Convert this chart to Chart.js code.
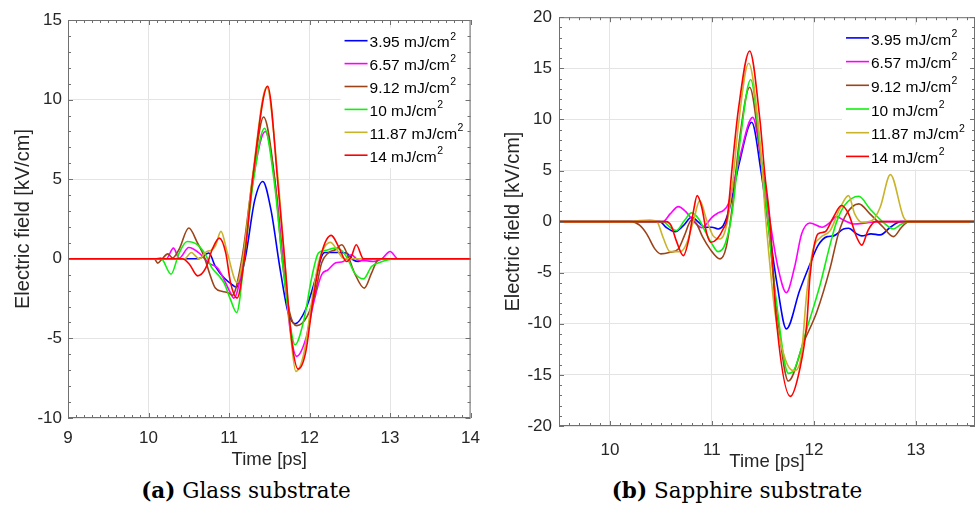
<!DOCTYPE html>
<html>
<head>
<meta charset="utf-8">
<script src="https://cdn.jsdelivr.net/npm/chart.js@4.4.1/dist/chart.umd.min.js"></script>
<style>
  body { margin: 0; background: #fff; }
  #wrap { position: relative; width: 976px; height: 505px; overflow: hidden; }
  .panel { position: absolute; top: 0; }
  .caption { position: absolute; top: 479px; width: 320px; text-align: center; font-family: "DejaVu Serif", serif; font-size: 21.5px; line-height: 24px; color: #000; white-space: nowrap; }
</style>
</head>
<body>
<div id="wrap">
  <div class="panel" style="left:0px"><canvas id="glass" width="490" height="475"></canvas></div>
  <div class="panel" style="left:490px"><canvas id="sapphire" width="486" height="475"></canvas></div>
  <div class="caption" style="left:86px"><b>(a)</b> Glass substrate</div>
  <div class="caption" style="left:577px"><b>(b)</b> Sapphire substrate</div>
</div>
<script>
// pump fluences (legend) and colours
var fluences = ['3.95', '6.57', '9.12', '10', '11.87', '14']
var seriesColors = ['#0000ff', '#ff00ff', '#9b4419', '#10f010', '#c9b32a', '#ff0000']

// axis ticks
var glassXTicks = [9, 10, 11, 12, 13, 14]
var glassYTicks = [-10, -5, 0, 5, 10, 15]
var sapphireXTicks = [10, 11, 12, 13]
var sapphireYTicks = [-20, -15, -10, -5, 0, 5, 10, 15, 20]

// (a) glass substrate, [time ps, field kV/cm]
var glass395 = [[9,0],[10.62,0],[10.75,0.36],[10.83,-0.48],[10.94,-1.21],[11.04,-1.63],[11.09,-1.78],[11.2,0],[11.32,3.7],[11.42,4.86],[11.52,3.1],[11.63,-0.5],[11.73,-3.3],[11.82,-4.08],[11.95,-3.2],[12.07,-1.32],[12.15,0.15],[12.19,0.4],[12.36,0.4],[12.46,0.36],[12.54,-0.06],[12.61,-0.17],[12.69,0],[14,0]]
var glass657 = [[9,0],[10.22,0],[10.31,0.67],[10.38,0.04],[10.5,0.71],[10.63,0.36],[10.75,-0.27],[10.86,-0.59],[10.94,-1.32],[11.02,-2.16],[11.06,-2.47],[11.18,0],[11.3,5.0],[11.45,8.0],[11.58,4.5],[11.67,0],[11.76,-4.5],[11.84,-6.13],[11.95,-5.09],[12.05,-2.78],[12.15,-1.0],[12.23,-0.69],[12.32,-0.27],[12.42,-0.17],[12.52,0.25],[12.61,-0.1],[12.7,-0.12],[12.79,-0.17],[12.9,0],[13.0,0.46],[13.1,0],[14,0]]
var glass912 = [[9,0],[10.07,0],[10.115,-0.27],[10.17,0],[10.24,0.31],[10.3,0.05],[10.38,0.6],[10.5,1.93],[10.61,0.98],[10.69,0.15],[10.77,-1.1],[10.83,-1.84],[10.92,-2.05],[11.0,-2.16],[11.04,-2.3],[11.16,0],[11.3,5.3],[11.43,8.91],[11.57,4.9],[11.66,0],[11.75,-3.3],[11.84,-4.2],[11.97,-3.62],[12.07,-2.16],[12.15,-0.27],[12.23,0.36],[12.32,0.57],[12.4,0.88],[12.48,0.15],[12.56,-0.9],[12.68,-1.84],[12.77,-0.9],[12.85,-0.06],[12.9,0],[14,0]]
var glass10 = [[9,0],[10.1,0],[10.15,0.06],[10.28,-0.96],[10.38,0.36],[10.48,1.09],[10.61,0.88],[10.71,0.25],[10.79,-0.59],[10.88,-1.1],[10.94,-1.53],[11.02,-2.58],[11.095,-3.37],[11.19,0],[11.3,4.8],[11.44,8.2],[11.57,4.5],[11.66,0],[11.75,-3.8],[11.82,-5.4],[11.93,-3.83],[12.03,-1.11],[12.11,0.36],[12.19,0.52],[12.32,0.67],[12.4,0.52],[12.48,-0.06],[12.56,-0.9],[12.67,-1.26],[12.77,-0.48],[12.87,-0.23],[12.98,-0.06],[13.05,0],[14,0]]
var glass1187 = [[9,0],[10.45,0],[10.53,0.4],[10.63,0],[10.72,0.45],[10.78,0.55],[10.83,0.8],[10.9,1.72],[10.98,0.36],[11.1,-1.49],[11.18,0.3],[11.3,5.5],[11.47,10.8],[11.6,5.5],[11.69,0],[11.77,-5.0],[11.83,-7.07],[11.93,-5.93],[12.03,-2.58],[12.11,-0.27],[12.19,0.77],[12.26,1.03],[12.34,0.57],[12.42,0.04],[12.5,0],[14,0]]
var glass14 = [[9,0],[10.42,0],[10.51,-0.36],[10.61,-1.07],[10.71,-0.59],[10.79,0.57],[10.88,1.3],[10.96,0.36],[11.02,-1.53],[11.1,-2.47],[11.19,0],[11.3,5.3],[11.48,10.84],[11.61,4.55],[11.69,0],[11.78,-5.2],[11.86,-6.93],[11.95,-5.93],[12.05,-2.37],[12.15,0.36],[12.27,1.47],[12.36,0.77],[12.46,-0.17],[12.52,0.15],[12.58,0.88],[12.67,0],[14,0]]

// (b) sapphire substrate
var saph395 = [[9.5,0],[10.49,0],[10.55,-0.55],[10.64,-0.98],[10.72,-0.39],[10.8,0.42],[10.87,-0.07],[10.93,-0.55],[11.0,-0.55],[11.06,-0.72],[11.11,-0.39],[11.17,1.2],[11.27,5.8],[11.39,9.72],[11.48,5.0],[11.55,0],[11.64,-6.2],[11.73,-10.5],[11.86,-6.75],[11.96,-4.2],[12.04,-2.35],[12.13,-1.47],[12.19,-1.4],[12.29,-0.72],[12.34,-0.65],[12.42,-1.2],[12.47,-1.4],[12.56,-1.2],[12.65,-1.3],[12.75,-0.55],[12.85,0],[13.6,0]]
var saph657 = [[9.5,0],[10.52,0],[10.59,0.75],[10.67,1.47],[10.75,0.91],[10.83,-0.07],[10.9,-0.6],[10.95,-0.2],[11.0,0.42],[11.06,0.85],[11.11,1.08],[11.16,1.73],[11.27,6.2],[11.4,10.2],[11.49,5.5],[11.57,0],[11.65,-4.6],[11.73,-6.95],[11.81,-4.47],[11.88,-1.2],[11.96,-0.13],[12.08,-0.55],[12.16,-0.07],[12.22,0.49],[12.3,0.1],[12.39,-0.23],[12.49,-0.16],[12.62,0],[13.6,0]]
var saph912 = [[9.5,0],[10.2,0],[10.29,-0.35],[10.36,-1.2],[10.44,-2.67],[10.5,-3.16],[10.59,-3.0],[10.67,-2.67],[10.73,-1.37],[10.8,0.16],[10.85,-0.23],[10.91,-1.53],[10.98,-2.67],[11.08,-3.65],[11.14,-2.5],[11.2,1.5],[11.27,8.0],[11.37,13.15],[11.47,7.0],[11.55,0],[11.64,-9.0],[11.75,-15.6],[11.9,-11.8],[12.03,-8.8],[12.16,-4.5],[12.24,-1.2],[12.32,0.75],[12.44,1.73],[12.55,0.75],[12.68,-0.55],[12.78,-1.47],[12.86,-0.55],[12.93,0],[13.6,0]]
var saph10 = [[9.5,0],[10.52,0],[10.59,-0.55],[10.65,-0.88],[10.73,0.1],[10.8,0.85],[10.87,0.26],[10.93,-0.88],[11.0,-2.18],[11.06,-2.94],[11.13,-2.18],[11.2,1.0],[11.28,8.2],[11.38,13.9],[11.47,7.5],[11.55,0],[11.64,-8.5],[11.75,-14.85],[11.8,-14.6],[11.93,-10.5],[12.06,-6.2],[12.16,-2.2],[12.22,-0.1],[12.3,1.57],[12.44,2.48],[12.55,1.24],[12.68,-0.07],[12.78,-0.72],[12.86,-0.23],[12.93,0],[13.6,0]]
var saph1187 = [[9.5,0],[10.2,0],[10.29,0.1],[10.39,0.16],[10.46,0],[10.52,-1.53],[10.59,-2.94],[10.69,-2.94],[10.75,-2.18],[10.82,0.1],[10.88,2.05],[10.95,0.1],[11.01,-1.37],[11.08,-1.7],[11.14,-0.5],[11.2,3.5],[11.26,9.5],[11.36,15.5],[11.46,9.0],[11.53,0],[11.62,-9.0],[11.72,-13.5],[11.8,-14.6],[11.87,-13.5],[11.93,-7.0],[11.99,-2.8],[12.06,-1.6],[12.16,-0.88],[12.26,1.4],[12.34,2.54],[12.4,0.75],[12.47,-0.07],[12.57,0.1],[12.65,1.4],[12.75,4.6],[12.88,0.42],[12.94,0],[13.6,0]]
var saph14 = [[9.5,0],[10.55,0],[10.6,-0.4],[10.65,-1.86],[10.72,-3.33],[10.77,-1.86],[10.82,1.08],[10.855,2.54],[10.9,1.4],[10.95,-1.2],[10.99,-2.02],[11.05,-1.7],[11.11,-0.72],[11.15,0.4],[11.2,5.5],[11.26,11.0],[11.37,16.7],[11.47,10.0],[11.52,4.5],[11.57,0],[11.63,-9.4],[11.77,-17.1],[11.86,-14.5],[11.93,-10.0],[11.96,-5.5],[12.0,-2.5],[12.04,-1.2],[12.11,-1.0],[12.19,0.42],[12.27,1.57],[12.34,0.75],[12.42,-1.53],[12.47,-2.3],[12.53,-0.88],[12.6,0],[13.6,0]]

var fontFamily = '"Liberation Sans", Arial, Helvetica, sans-serif'
var textColor = '#262626'
var gridColor = '#e4e4e4'

// box, inner ticks (all four sides) and the in-plot legend, MATLAB style
var frame = {
    id: 'frame',
    afterDatasetsDraw: function (chart, args, opts) {
        var ctx = chart.ctx
        var a = chart.chartArea
        var lx = a.right - opts.legX
        var ly = a.top + opts.legY
        var n = chart.data.datasets.length
        ctx.save()
        ctx.fillStyle = '#fff'
        ctx.fillRect(lx - 4, ly - 13, a.right - lx + 3, (n - 1) * opts.rowH + 26)
        chart.data.datasets.forEach(function (ds, i) {
            var y = ly + i * opts.rowH
            ctx.strokeStyle = ds.borderColor
            ctx.lineWidth = 1.6
            ctx.beginPath()
            ctx.moveTo(lx, y)
            ctx.lineTo(lx + 23, y)
            ctx.stroke()
            var parts = ds.label.split('²')
            ctx.fillStyle = '#000'
            ctx.textBaseline = 'middle'
            ctx.textAlign = 'left'
            ctx.font = '15.5px ' + fontFamily
            ctx.fillText(parts[0], lx + 25, y + 2.5)
            var w = ctx.measureText(parts[0]).width
            ctx.font = '10.5px ' + fontFamily
            ctx.fillText('2', lx + 25 + w + 0.5, y - 4)
        })
        ctx.restore()
    },
    afterDraw: function (chart, args, opts) {
        var ctx = chart.ctx
        var a = chart.chartArea
        var xs = chart.scales.x
        var ys = chart.scales.y
        ctx.save()
        ctx.strokeStyle = '#707070'
        ctx.lineWidth = 1
        ctx.beginPath()
        var k, v, len, p
        for (k = Math.ceil(xs.min / opts.xMinor - 1e-6); k * opts.xMinor <= xs.max + 1e-6; k++) {
            v = k * opts.xMinor
            len = Math.abs(v - Math.round(v)) < 1e-6 ? 5 : 3
            p = Math.round(xs.getPixelForValue(v)) + 0.5
            ctx.moveTo(p, a.bottom); ctx.lineTo(p, a.bottom - len)
            ctx.moveTo(p, a.top); ctx.lineTo(p, a.top + len)
        }
        for (k = Math.ceil(ys.min / opts.yMinor - 1e-6); k * opts.yMinor <= ys.max + 1e-6; k++) {
            v = k * opts.yMinor
            len = Math.abs(v / 5 - Math.round(v / 5)) < 1e-6 ? 5 : 3
            p = Math.round(ys.getPixelForValue(v)) + 0.5
            ctx.moveTo(a.left, p); ctx.lineTo(a.left + len, p)
            ctx.moveTo(a.right, p); ctx.lineTo(a.right - len, p)
        }
        ctx.stroke()
        ctx.strokeRect(a.left + 0.5, a.top + 0.5, a.right - a.left - 1, a.bottom - a.top - 1)
        ctx.restore()
    }
}

function buildChart(canvasId, series, cfg) {
    var n = series.length
    var datasets = series.map(function (pts, i) {
        return {
            label: fluences[i] + ' mJ/cm²',
            data: pts.map(function (p) { return { x: p[0], y: p[1] } }),
            borderColor: seriesColors[i],
            borderWidth: 1.6,
            pointRadius: 0,
            cubicInterpolationMode: 'monotone',
            fill: false,
            order: n - 1 - i   // last series (14 mJ/cm²) on top
        }
    })

    return new Chart(document.getElementById(canvasId), {
        type: 'line',
        data: { datasets: datasets },
        options: {
            responsive: false,
            animation: false,
            devicePixelRatio: 1,
            layout: { padding: cfg.padding },
            plugins: {
                legend: { display: false },
                tooltip: { enabled: false },
                frame: cfg.frame
            },
            scales: {
                x: {
                    type: 'linear',
                    min: cfg.xMin,
                    max: cfg.xMax,
                    afterBuildTicks: function (s) { s.ticks = cfg.xTicks.map(function (t) { return { value: t } }) },
                    afterFit: function (s) { s.height = cfg.xHeight },
                    grid: { color: gridColor, drawTicks: false },
                    border: { display: false },
                    ticks: { font: { family: fontFamily, size: 17 }, color: textColor, padding: cfg.xTickPad, maxRotation: 0 },
                    title: { display: true, text: 'Time [ps]', color: textColor, font: { family: fontFamily, size: 18.5 }, padding: { top: 0, bottom: cfg.xTitlePad } }
                },
                y: {
                    type: 'linear',
                    min: cfg.yMin,
                    max: cfg.yMax,
                    afterBuildTicks: function (s) { s.ticks = cfg.yTicks.map(function (t) { return { value: t } }) },
                    afterFit: function (s) { s.width = cfg.yWidth },
                    grid: { color: gridColor, drawTicks: false },
                    border: { display: false },
                    ticks: { font: { family: fontFamily, size: 17 }, color: textColor, padding: cfg.yTickPad },
                    title: { display: true, text: 'Electric field [kV/cm]', color: textColor, font: { family: fontFamily, size: 20 }, padding: { top: 11.5, bottom: 0 } }
                }
            }
        },
        plugins: [frame]
    })
}

buildChart('glass', [glass395, glass657, glass912, glass10, glass1187, glass14], {
    xMin: 9, xMax: 14, yMin: -10, yMax: 15,
    xTicks: glassXTicks, yTicks: glassYTicks,
    padding: { top: 20, right: 17, left: 0, bottom: 0 },
    xHeight: 57, yWidth: 68, xTickPad: 10, yTickPad: 6, xTitlePad: 4,
    frame: { legX: 126, legY: 20.7, rowH: 22.9, xMinor: 0.1, yMinor: 1 }
})

buildChart('sapphire', [saph395, saph657, saph912, saph10, saph1187, saph14], {
    xMin: 9.5, xMax: 13.58, yMin: -20, yMax: 20,
    xTicks: sapphireXTicks, yTicks: sapphireYTicks,
    padding: { top: 16, right: 1, left: 0, bottom: 0 },
    xHeight: 49, yWidth: 69, xTickPad: 14, yTickPad: 7, xTitlePad: 2,
    frame: { legX: 129, legY: 20.7, rowH: 23.7, xMinor: 0.1, yMinor: 1 }
})
</script>
</body>
</html>
